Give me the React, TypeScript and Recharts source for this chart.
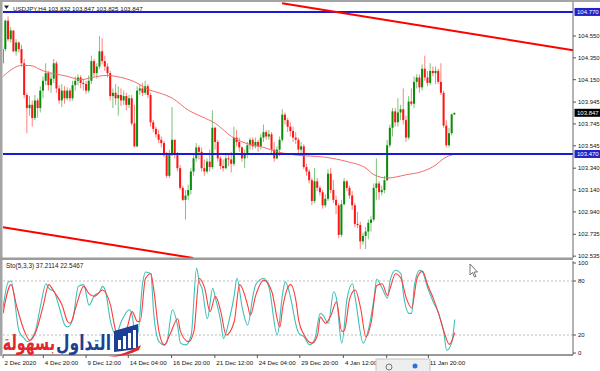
import React from "react";
import { ComposedChart, Bar, Line, XAxis, YAxis, ReferenceLine } from "recharts";

const FONT = "'Liberation Sans', Arial, sans-serif";

// ---- price data (H4 candles, bar index = position in arrays) ----
const firstOpen = 104.3;
const closes = [
  104.43, 104.69, 104.52, 104.6, 104.41, 104.49, 104.43, 104.3, 104.01, 103.89,
  103.92, 103.8, 103.96, 103.89, 104.05, 104.14, 104.21, 104.1, 104.16, 104.3,
  104.07, 103.96, 104.05, 103.98, 104.05, 103.98, 104.1, 104.14, 104.17, 104.12,
  104.11, 104.05, 104.14, 104.32, 104.21, 104.27, 104.41, 104.32, 104.27, 104.21,
  104.0, 104.03, 103.98, 104.01, 103.96, 104.0, 103.92, 103.98, 103.75, 103.54,
  104.05, 104.07, 104.03, 104.09, 104.01, 103.76, 103.7, 103.65, 103.6, 103.57,
  103.46, 103.27, 103.46, 103.6, 103.46, 103.34, 103.16, 103.05, 103.09, 103.14,
  103.31, 103.43, 103.53, 103.49, 103.34, 103.31, 103.4, 103.35, 103.71, 103.58,
  103.43, 103.36, 103.34, 103.43, 103.42, 103.38, 103.62, 103.58, 103.53, 103.43,
  103.47, 103.55, 103.6, 103.54, 103.58, 103.54, 103.62, 103.67, 103.63, 103.65,
  103.51, 103.43, 103.51, 103.6, 103.83, 103.78, 103.72, 103.68, 103.62, 103.6,
  103.51, 103.54, 103.35, 103.31, 103.23, 103.04, 103.22, 103.16, 103.12, 103.0,
  103.06, 103.29, 103.14, 103.05, 103.0, 102.73, 103.01, 103.22, 103.16, 103.09,
  103.0, 102.83, 102.82, 102.67, 102.72, 102.76, 102.84, 102.87, 103.16, 103.2,
  103.12, 103.14, 103.23, 103.55, 103.71, 103.86, 103.76, 103.85, 103.88, 103.78,
  103.62, 103.95, 103.93, 104.13, 104.17, 104.08, 104.25, 104.17, 104.12, 104.23,
  104.21, 104.23, 104.13, 104.03, 103.73, 103.55, 103.66, 103.832, 103.847,
];
const highs = [
  104.46, 104.7, 104.73, 104.63, 104.6, 104.52, 104.5, 104.47, 104.34, 104.03,
  104.0, 103.96, 104.01, 103.98, 104.09, 104.18, 104.3, 104.23, 104.21, 104.34,
  104.32, 104.1, 104.11, 104.09, 104.08, 104.07, 104.14, 104.18, 104.2, 104.19,
  104.16, 104.14, 104.19, 104.37, 104.34, 104.3, 104.55, 104.53, 104.37, 104.3,
  104.23, 104.07, 104.11, 104.09, 104.07, 104.05, 104.03, 104.01, 104.01, 103.92,
  104.09, 104.11, 104.12, 104.14, 104.11, 104.03, 103.78, 103.72, 103.69, 103.63,
  103.59, 103.49, 103.51, 103.9, 103.6, 103.49, 103.37, 103.18, 103.14, 103.19,
  103.34, 103.46, 103.57, 103.55, 103.53, 103.42, 103.43, 103.51, 103.87, 103.72,
  103.6, 103.45, 103.42, 103.46, 103.47, 103.49, 103.72, 103.69, 103.62, 103.54,
  103.51, 103.58, 103.62, 103.62, 103.62, 103.6, 103.65, 103.74, 103.69, 103.69,
  103.67, 103.58, 103.54, 103.63, 103.88, 103.85, 103.8, 103.76, 103.72, 103.67,
  103.62, 103.58, 103.56, 103.38, 103.33, 103.25, 103.34, 103.25, 103.18, 103.14,
  103.1, 103.33, 103.34, 103.23, 103.09, 103.02, 103.05, 103.25, 103.23, 103.18,
  103.13, 103.02, 102.94, 102.85, 102.75, 102.8, 102.87, 102.9, 103.2, 103.43,
  103.22, 103.18, 103.27, 103.6, 103.74, 103.89, 103.89, 103.98, 103.92, 104.07,
  103.82, 104.0, 104.07, 104.18, 104.2, 104.2, 104.29, 104.37, 104.23, 104.3,
  104.27, 104.27, 104.25, 104.3, 104.05, 103.78, 103.71, 103.84, 103.847,
];
const lows = [
  104.29, 104.41, 104.5, 104.49, 104.4, 104.37, 104.4, 104.27, 103.98, 103.66,
  103.82, 103.72, 103.78, 103.8, 103.85, 103.98, 104.1, 104.05, 104.03, 104.12,
  104.03, 103.93, 103.9, 103.93, 103.96, 103.95, 103.96, 104.05, 104.1, 104.07,
  104.05, 104.02, 104.03, 104.11, 104.18, 104.16, 104.25, 104.29, 104.23, 104.17,
  103.96, 103.89, 103.92, 103.82, 103.91, 103.92, 103.87, 103.89, 103.73, 103.53,
  103.53, 104.01, 104.0, 104.01, 103.98, 103.72, 103.67, 103.62, 103.57, 103.53,
  103.44, 103.25, 103.25, 103.45, 103.43, 103.31, 103.14, 103.04, 102.87, 103.05,
  103.1, 103.27, 103.4, 103.42, 103.31, 103.27, 103.29, 103.31, 103.33, 103.51,
  103.4, 103.33, 103.31, 103.33, 103.36, 103.3, 103.36, 103.54, 103.49, 103.4,
  103.34, 103.43, 103.51, 103.51, 103.52, 103.49, 103.51, 103.58, 103.6, 103.6,
  103.47, 103.4, 103.42, 103.45, 103.58, 103.74, 103.67, 103.63, 103.58, 103.56,
  103.47, 103.45, 103.33, 103.27, 103.2, 103.0, 103.02, 103.13, 103.09, 102.97,
  102.98, 103.04, 103.11, 103.02, 102.92, 102.7, 102.71, 103.0, 103.13, 103.06,
  102.96, 102.8, 102.79, 102.6, 102.64, 102.6, 102.69, 102.76, 102.85, 103.05,
  103.05, 103.09, 103.11, 103.22, 103.53, 103.63, 103.72, 103.72, 103.78, 103.74,
  103.58, 103.6, 103.91, 103.89, 104.07, 104.03, 104.05, 104.14, 104.09, 104.1,
  104.18, 104.11, 104.11, 104.01, 103.71, 103.53, 103.53, 103.64, 103.825,
];

// moving average: [bar, price]
const maPoints: [number, number][] = [
  [0, 104.18], [7, 104.28], [10, 104.28], [15, 104.23], [24, 104.18], [29, 104.15],
  [33, 104.17], [39, 104.19], [42, 104.18], [49, 104.13], [54, 104.06], [58, 104.03],
  [63, 103.98], [69, 103.87], [74, 103.81], [79, 103.75], [85, 103.63], [89, 103.58],
  [97, 103.53], [102, 103.49], [109, 103.46], [120, 103.44], [128, 103.4], [135, 103.34],
  [138, 103.28], [143, 103.25], [150, 103.28], [156, 103.31], [161, 103.37], [164, 103.43],
  [168, 103.47],
];

const priceTicks = [104.55, 104.35, 104.15, 103.945, 103.745, 103.545, 103.34, 103.14, 102.94, 102.735, 102.535];
const priceDomain = [102.518, 104.861];
const upperLevel = 104.77;
const lowerLevel = 103.47;
const bidPrice = 103.847;
const trendUpper: [number, number][] = [[103.8, 104.85], [212, 104.42]];
const trendLower: [number, number][] = [[0, 102.8], [70.7, 102.518]];
const barDomain = [0, 212];

// Stochastic (5,3,3): [bar, value]
const stochK: [number, number][] = [
  [0, 50], [2, 79], [3, 80], [6, 24], [8, 16], [9, 12.6], [12, 24], [14, 53], [16, 77], [17, 72],
  [19, 68], [21, 50], [23, 31], [24, 29], [26, 38], [28, 74], [30, 76], [32, 53], [34, 64], [36, 68],
  [37, 74], [38, 70], [40, 35], [42, 20], [44, 35], [47, 48], [48, 42], [49, 24], [50, 20], [52, 79],
  [53, 90], [55, 88], [56, 46], [58, 12.6], [60, 9], [61, 12.6], [63, 48], [65, 29], [66, 11], [68, 9],
  [70, 20], [72, 94], [73, 79], [74, 72], [76, 38], [78, 72], [79, 61], [81, 35], [82, 16], [84, 35],
  [86, 64], [87, 83], [89, 50], [91, 31], [93, 64], [94, 76], [97, 83], [99, 72], [102, 20], [104, 66],
  [105, 79], [107, 61], [109, 31], [110, 22], [112, 18], [114, 9], [116, 16], [118, 44], [119, 42], [121, 33],
  [123, 68], [124, 61], [126, 11], [128, 61], [130, 77], [131, 61], [134, 11], [136, 27], [138, 61], [139, 82],
  [141, 72], [143, 61], [144, 81], [146, 92], [148, 88], [149, 64], [151, 44], [152, 44], [153, 75], [155, 92],
  [156, 90], [158, 72], [160, 57], [162, 44], [164, 22], [165, 3], [167, 12.6], [168, 37.2114],
];
const stochD: [number, number][] = [
  [0, 44], [3, 76], [5, 53], [8, 24], [10, 14], [12, 22], [15, 53], [17, 76], [19, 68], [22, 53],
  [24, 35], [25, 33], [27, 50], [30, 74], [32, 66], [34, 63], [37, 70], [40, 53], [42, 24], [43, 20],
  [46, 27], [48, 46], [50, 35], [51, 35], [53, 83], [55, 88], [56, 72], [58, 24], [60, 9], [62, 20],
  [65, 38], [66, 24], [69, 12.6], [71, 24], [73, 83], [75, 72], [77, 46], [79, 63], [81, 46], [83, 20],
  [86, 35], [88, 76], [91, 53], [92, 42], [94, 64], [97, 81], [100, 68], [103, 29], [104, 50], [107, 76],
  [109, 57], [110, 36], [112, 20], [115, 11], [117, 20], [118, 40], [120, 33], [122, 42], [124, 57], [126, 24],
  [127, 25.5], [129, 61], [131, 70], [133, 50], [135, 18], [137, 35], [139, 75], [141, 77], [143, 64], [144, 72],
  [146, 88], [148, 83], [150, 61], [152, 50], [154, 83], [156, 91], [158, 75], [160, 61], [162, 44], [164, 24],
  [166, 9.6], [168, 22.5467],
];
const stochTicks = [0, 20, 80, 100];
const stochLevels = [20, 80];

const timeTickBars = [0, 15, 30.9, 46.6, 62.7, 78.8, 94.6, 110.4, 126.6, 142.7, 158.2];
const timeLabels = [
  "2 Dec 2020", "4 Dec 20:00", "9 Dec 12:00", "14 Dec 04:00", "16 Dec 20:00", "21 Dec 12:00",
  "24 Dec 04:00", "29 Dec 20:00", "4 Jan 12:00", "7 Jan 04:00", "11 Jan 20:00",
];

// ---- derived tables ----
const candles = closes.map((c, i) => {
  const o = i === 0 ? firstOpen : closes[i - 1];
  const h = Math.max(highs[i], o, c);
  const l = Math.min(lows[i], o, c);
  return { i, open: o, close: c, high: h, low: l, range: [l, h] };
});
const maData = maPoints.map(([i, v]) => ({ i, v }));
const kData = stochK.map(([i, v]) => ({ i, k: v }));
const dData = stochD.map(([i, v]) => ({ i, d: v }));

const Candle = (props: any) => {
  const { x, y, width, height, payload } = props;
  if (x == null || y == null || !payload) return null;
  const top = Math.min(y, y + height);
  const bottom = Math.max(y, y + height);
  const { open, close, high, low } = payload;
  const span = high - low || 1e-6;
  const py = (p: number) => top + ((high - p) / span) * (bottom - top);
  const cx = x + width / 2;
  const up = close >= open;
  const bt = py(Math.max(open, close));
  const bb = py(Math.min(open, close));
  return (
    <g>
      <line x1={cx} x2={cx} y1={top} y2={bottom} stroke={up ? "#7cc47c" : "#ff8080"} strokeWidth={1} />
      <rect x={cx - 1} y={bt} width={2} height={Math.max(1, bb - bt)} fill={up ? "#0a8c0a" : "#ff1414"} />
    </g>
  );
};

const PriceTick = (props: any) => {
  const { x, y, payload } = props;
  return (
    <g>
      <line x1={x} x2={x + 3} y1={y} y2={y} stroke="#555" />
      <text x={x + 5} y={y} dy={2.2} fontSize={6} fontFamily={FONT} fill="#111">
        {Number(payload.value).toFixed(3)}
      </text>
    </g>
  );
};

const StochTick = (props: any) => {
  const { x, y, payload } = props;
  return (
    <g>
      <line x1={x} x2={x + 3} y1={y} y2={y} stroke="#555" />
      <text x={x + 5} y={y} dy={2.2} fontSize={6} fontFamily={FONT} fill="#111">
        {payload.value}
      </text>
    </g>
  );
};

const TimeTick = (props: any) => {
  const { x, y, payload } = props;
  const idx = timeTickBars.indexOf(payload.value);
  return (
    <g>
      <line x1={x} x2={x} y1={y} y2={y + 3} stroke="#555" />
      <text x={x + 1.5} y={y + 9.5} fontSize={6.2} fontFamily={FONT} fill="#111">
        {idx >= 0 ? timeLabels[idx] : ""}
      </text>
    </g>
  );
};

const AxisBadge = (props: any) => {
  const { viewBox, text, bg } = props;
  if (!viewBox) return null;
  const x = viewBox.x + viewBox.width + 1.5;
  const y = viewBox.y;
  return (
    <g>
      <rect x={x} y={y - 4} width={26} height={8} fill={bg} />
      <text x={x + 2.5} y={y} dy={2.2} fontSize={6} fill="#fff" fontFamily={FONT}>
        {text}
      </text>
    </g>
  );
};

export default function App() {
  return (
    <div style={{ position: "absolute", left: 0, top: 0, width: 600, height: 371, background: "#fff", overflow: "hidden" }}>
      <div style={{ position: "absolute", left: 0, top: 0 }}>
        <ComposedChart width={600} height={260} data={candles} margin={{ top: 2, right: 0, bottom: 2, left: 3 }}>
          <XAxis dataKey="i" type="number" domain={barDomain} allowDataOverflow hide />
          <YAxis
            orientation="right"
            width={27}
            domain={priceDomain}
            allowDataOverflow
            ticks={priceTicks}
            interval={0}
            tickSize={0}
            tickMargin={0}
            tickLine={false}
            axisLine={{ stroke: "#666" }}
            tick={<PriceTick />}
          />
          <Bar dataKey="range" barSize={2} isAnimationActive={false} shape={(p: any) => <Candle {...p} />} />
          <Line data={maData} dataKey="v" type="monotone" stroke="#f26b6b" strokeWidth={1} dot={false} isAnimationActive={false} />
          <ReferenceLine y={upperLevel} stroke="#1b1bd4" strokeWidth={2} label={<AxisBadge text="104.770" bg="#2323c8" />} />
          <ReferenceLine y={lowerLevel} stroke="#1b1bd4" strokeWidth={2} label={<AxisBadge text="103.470" bg="#2323c8" />} />
          <ReferenceLine y={bidPrice} stroke="none" strokeOpacity={0} label={<AxisBadge text="103.847" bg="#000" />} />
          <ReferenceLine
            ifOverflow="visible"
            segment={[{ x: trendUpper[0][0], y: trendUpper[0][1] }, { x: trendUpper[1][0], y: trendUpper[1][1] }]}
            stroke="#ff0000"
            strokeWidth={2}
          />
          <ReferenceLine
            ifOverflow="visible"
            segment={[{ x: trendLower[0][0], y: trendLower[0][1] }, { x: trendLower[1][0], y: trendLower[1][1] }]}
            stroke="#ff0000"
            strokeWidth={2}
          />
        </ComposedChart>
      </div>
      <div style={{ position: "absolute", left: 0, top: 259 }}>
        <ComposedChart width={600} height={112} data={kData} margin={{ top: 2, right: 0, bottom: 0, left: 3 }}>
          <XAxis
            dataKey="i"
            type="number"
            domain={barDomain}
            allowDataOverflow
            ticks={timeTickBars}
            interval={0}
            height={16}
            tickSize={0}
            tickMargin={0}
            tickLine={false}
            axisLine={{ stroke: "#777", strokeWidth: 1.5 }}
            tick={<TimeTick />}
          />
          <YAxis
            orientation="right"
            width={27}
            domain={[-2.2, 102.2]}
            allowDataOverflow
            ticks={stochTicks}
            interval={0}
            tickSize={0}
            tickMargin={0}
            tickLine={false}
            axisLine={{ stroke: "#666" }}
            tick={<StochTick />}
          />
          {stochLevels.map((lv) => (
            <ReferenceLine key={lv} y={lv} stroke="#bdbdbd" strokeDasharray="2 2" />
          ))}
          <Line dataKey="k" type="monotone" stroke="#3fbfb8" strokeWidth={1.1} dot={false} isAnimationActive={false} />
          <Line data={dData} dataKey="d" type="monotone" stroke="#ff3b3b" strokeWidth={1.1} dot={false} isAnimationActive={false} />
        </ComposedChart>
      </div>
      <svg width={600} height={371} style={{ position: "absolute", left: 0, top: 0, pointerEvents: "none" }}>
        <rect x={0} y={0} width={600} height={2} fill="#a4a4a4" />
        <rect x={0} y={0} width={2.5} height={356} fill="#a4a4a4" />
        <rect x={0} y={257.5} width={573} height={2.5} fill="#9c9c9c" />
        <polygon points="4,5.5 9,5.5 6.5,9" fill="#222" />
        <text x={13} y={10.5} fontSize={6.2} fontFamily={FONT} fill="#111">
          USDJPY,H4  103.832 103.847 103.825 103.847
        </text>
        <text x={6} y={268} fontSize={6.4} fontFamily={FONT} fill="#222">
          Sto(5,3,3) 37.2114 22.5467
        </text>
        {/* watermark logo */}
        <g transform="translate(111,350) scale(0.74,1)">
          <text x={0} y={0} textAnchor="end" fontSize={21} fontWeight="bold" fontFamily="'DejaVu Sans', sans-serif" fill="#1d3f94">
            التداول
          </text>
        </g>
        <g transform="translate(55,350) scale(0.68,1)">
          <text x={0} y={0} textAnchor="end" fontSize={21} fontWeight="bold" fontFamily="'DejaVu Sans', sans-serif" fill="#e3262b">
            بسهولة
          </text>
        </g>
        <polygon points="114,331 138,324 138,349 114,352" fill="#1d3f94" />
        <rect x={118} y={340} width={3} height={9} fill="#fff" />
        <rect x={123} y={336} width={3} height={13} fill="#fff" />
        <rect x={128} y={333} width={3} height={15} fill="#fff" />
        <rect x={133} y={330} width={3} height={18} fill="#fff" />
        <path d="M108,357 Q124,355 141,345 L139,350 Q125,357 108,357 Z" fill="#e3262b" />
        {/* cursor */}
        <polygon points="470,264 470,275 472.5,272.5 474.5,277 476,276.3 474,272 477.5,272" fill="#fff" stroke="#555" strokeWidth={0.8} />
        {/* small toolbar popup */}
        <rect x={376} y={359} width={54} height={13} fill="#eeeeee" stroke="#c4c4c4" />
        <circle cx={389} cy={367} r={3} fill="none" stroke="#777" strokeWidth={1} />
        <circle cx={415} cy={366} r={2.5} fill="#2a73d9" />
      </svg>
    </div>
  );
}
